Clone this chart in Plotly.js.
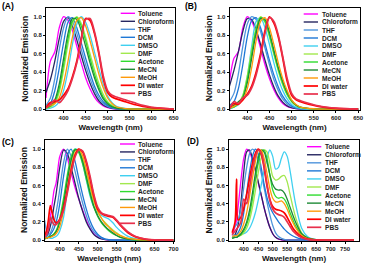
<!DOCTYPE html>
<html><head><meta charset="utf-8">
<script src="https://cdn.plot.ly/plotly-3.0.1.min.js"></script>
<style>html,body{margin:0;padding:0;background:#fff}#chart{width:366px;height:267px}</style>
</head><body><div id="chart"></div>
<script>
const SOLVENTS = ['Toluene','Chloroform','THF','DCM','DMSO','DMF','Acetone','MeCN','MeOH','DI water','PBS'];
const PANEL_LABELS = ['(A)','(B)','(C)','(D)'];
const X_TITLE = 'Wavelength (nm)';
const Y_TITLE = 'Normalized Emission';
const Y_TICKS = [0, 0.2, 0.4, 0.6, 0.8, 1.0];
const X_TICKS_AB = [400, 450, 500, 550, 600, 650];
const X_TICKS_C = [400, 450, 500, 550, 600, 650, 700];
const X_TICKS_D = [400, 450, 500, 550, 600, 650, 700, 750];

// wavelength grids (nm)
const WL_AB = [360,370,380,390,400,410,420,430,440,450,460,470,480,490,500,510,520,540,560,580,600,650];
const WL_C = [360,365,370,375,380,385,390,395,400,410,420,430,440,450,460,470,480,490,500,510,520,530,540,550,560,580,600,625,650,700];
const WL_D = [360,370,375,380,390,400,410,420,430,440,450,460,470,480,490,500,510,520,530,540,550,560,570,580,600,620,650,700,780];

// Panel A emission, one row per solvent (order of SOLVENTS)
const EM_A = [
 [0.12,0.52,0.62,0.88,1.0,0.96,0.85,0.68,0.5,0.34,0.22,0.13,0.07,0.035,0.015,0.005,0,0,0,0,0,0],
 [0.18,0.32,0.52,0.76,0.95,0.99,0.9,0.75,0.58,0.42,0.28,0.17,0.09,0.045,0.02,0.008,0.002,0,0,0,0,0],
 [0.04,0.12,0.33,0.64,0.88,1.0,0.95,0.82,0.65,0.48,0.33,0.21,0.12,0.06,0.03,0.012,0.004,0,0,0,0,0],
 [0.02,0.06,0.2,0.44,0.72,0.94,0.99,0.88,0.72,0.55,0.39,0.25,0.15,0.08,0.04,0.015,0.005,0,0,0,0,0],
 [0,0.01,0.03,0.08,0.2,0.42,0.7,0.92,1.0,0.94,0.8,0.62,0.44,0.27,0.14,0.07,0.03,0.008,0,0,0,0],
 [0.01,0.02,0.06,0.18,0.42,0.7,0.92,1.0,0.93,0.78,0.6,0.43,0.28,0.16,0.08,0.04,0.015,0.004,0,0,0,0],
 [0.01,0.03,0.08,0.22,0.48,0.76,0.95,0.99,0.9,0.74,0.55,0.38,0.24,0.13,0.065,0.03,0.01,0.002,0,0,0,0],
 [0.02,0.04,0.1,0.27,0.55,0.82,0.98,0.97,0.85,0.68,0.5,0.34,0.21,0.11,0.055,0.025,0.01,0.002,0,0,0,0],
 [0.02,0.04,0.06,0.12,0.28,0.52,0.78,0.96,0.99,0.9,0.74,0.56,0.38,0.23,0.12,0.06,0.025,0.006,0,0,0,0],
 [0.02,0.07,0.08,0.1,0.15,0.22,0.35,0.52,0.76,0.98,0.96,0.82,0.6,0.33,0.18,0.13,0.11,0.08,0.05,0.03,0.015,0],
 [0.01,0.05,0.1,0.07,0.12,0.2,0.33,0.5,0.74,0.97,0.98,0.84,0.62,0.36,0.2,0.15,0.13,0.1,0.07,0.04,0.02,0]
];
// Panel B
const EM_B = [
 [0.3,0.55,0.62,0.88,1.0,0.95,0.83,0.66,0.48,0.33,0.21,0.12,0.06,0.03,0.012,0.004,0,0,0,0,0,0],
 [0.25,0.42,0.62,0.84,0.98,0.97,0.86,0.7,0.53,0.37,0.24,0.14,0.075,0.035,0.015,0.005,0,0,0,0,0,0],
 [0.08,0.17,0.38,0.68,0.92,1.0,0.97,0.84,0.66,0.48,0.32,0.2,0.11,0.055,0.025,0.01,0.003,0,0,0,0,0],
 [0.04,0.08,0.22,0.48,0.78,0.96,0.99,0.88,0.71,0.53,0.37,0.24,0.14,0.075,0.035,0.015,0.005,0,0,0,0,0],
 [0,0.02,0.05,0.14,0.35,0.68,0.95,0.99,0.88,0.7,0.5,0.33,0.2,0.11,0.05,0.02,0.008,0,0,0,0,0],
 [0.01,0.03,0.07,0.15,0.36,0.64,0.88,1.0,0.94,0.78,0.59,0.41,0.26,0.15,0.08,0.04,0.015,0.004,0,0,0,0],
 [0.01,0.02,0.06,0.13,0.32,0.6,0.86,0.99,0.95,0.8,0.61,0.43,0.28,0.16,0.085,0.04,0.018,0.005,0,0,0,0],
 [0.02,0.04,0.08,0.12,0.28,0.55,0.82,0.98,0.97,0.83,0.64,0.45,0.3,0.18,0.095,0.045,0.02,0.005,0,0,0,0],
 [0.01,0.03,0.06,0.1,0.22,0.45,0.74,0.95,0.99,0.88,0.7,0.5,0.33,0.2,0.1,0.05,0.022,0.006,0,0,0,0],
 [0.01,0.06,0.05,0.1,0.16,0.25,0.4,0.6,0.85,1.0,0.93,0.78,0.55,0.3,0.15,0.1,0.08,0.05,0.03,0.015,0.007,0],
 [0,0.08,0.06,0.12,0.15,0.23,0.37,0.57,0.82,0.99,0.95,0.8,0.57,0.33,0.17,0.11,0.09,0.06,0.035,0.02,0.01,0]
];
// Panel C
const EM_C = [
 [0.02,0.05,0.12,0.25,0.4,0.55,0.62,0.78,0.92,1.0,0.9,0.74,0.58,0.45,0.33,0.22,0.13,0.07,0.035,0.015,0.005,0,0,0,0,0,0,0,0,0],
 [0.02,0.04,0.08,0.15,0.25,0.38,0.5,0.65,0.8,0.99,0.95,0.8,0.63,0.46,0.32,0.2,0.12,0.06,0.03,0.012,0.004,0,0,0,0,0,0,0,0,0],
 [0.22,0.1,0.06,0.08,0.13,0.2,0.3,0.42,0.56,0.85,1.0,0.92,0.76,0.58,0.41,0.27,0.16,0.09,0.05,0.025,0.01,0.004,0,0,0,0,0,0,0,0],
 [0.04,0.03,0.04,0.06,0.09,0.13,0.19,0.28,0.4,0.7,0.93,1.0,0.87,0.68,0.5,0.34,0.21,0.12,0.065,0.03,0.012,0.004,0,0,0,0,0,0,0,0],
 [0.1,0.05,0.03,0.02,0.02,0.03,0.04,0.06,0.1,0.25,0.55,0.85,1.0,0.98,0.85,0.66,0.48,0.36,0.3,0.27,0.25,0.23,0.19,0.14,0.1,0.04,0.015,0.004,0,0],
 [0.02,0.02,0.03,0.04,0.05,0.07,0.1,0.15,0.22,0.42,0.66,0.87,0.98,0.99,0.9,0.75,0.57,0.42,0.31,0.24,0.19,0.15,0.11,0.08,0.05,0.02,0.008,0.002,0,0],
 [0.01,0.02,0.03,0.04,0.05,0.07,0.1,0.15,0.24,0.46,0.72,0.92,1.0,0.96,0.84,0.67,0.5,0.36,0.26,0.19,0.14,0.1,0.07,0.05,0.03,0.012,0.004,0,0,0],
 [0.02,0.02,0.03,0.04,0.05,0.06,0.09,0.13,0.2,0.4,0.66,0.88,0.99,0.98,0.87,0.7,0.52,0.37,0.27,0.2,0.15,0.11,0.08,0.05,0.03,0.012,0.004,0,0,0],
 [0.03,0.02,0.03,0.03,0.04,0.05,0.07,0.1,0.15,0.32,0.56,0.8,0.95,1.0,0.93,0.78,0.6,0.44,0.32,0.24,0.18,0.14,0.1,0.07,0.05,0.02,0.008,0.002,0,0],
 [0.05,0.1,0.22,0.38,0.3,0.22,0.19,0.2,0.23,0.35,0.55,0.77,0.93,1.0,0.97,0.85,0.67,0.48,0.34,0.29,0.27,0.26,0.25,0.21,0.16,0.08,0.035,0.01,0.002,0],
 [0.03,0.06,0.12,0.25,0.2,0.17,0.17,0.19,0.22,0.33,0.52,0.74,0.91,0.99,0.98,0.87,0.7,0.5,0.36,0.3,0.28,0.27,0.26,0.22,0.17,0.09,0.04,0.012,0.003,0]
];
// Panel D
const EM_D = [
 [0.05,0.15,0.22,0.35,0.65,0.9,1.0,0.97,0.88,0.76,0.63,0.5,0.36,0.24,0.14,0.07,0.03,0.01,0.003,0,0,0,0,0,0,0,0,0,0],
 [0.02,0.06,0.1,0.16,0.4,0.75,0.97,0.99,0.9,0.78,0.64,0.5,0.36,0.24,0.14,0.07,0.03,0.012,0.004,0,0,0,0,0,0,0,0,0,0],
 [0.1,0.15,0.17,0.2,0.35,0.58,0.8,0.95,1.0,0.97,0.88,0.74,0.58,0.42,0.28,0.16,0.08,0.04,0.02,0.008,0.003,0,0,0,0,0,0,0,0],
 [0.03,0.05,0.06,0.08,0.15,0.3,0.52,0.75,0.92,1.0,0.95,0.8,0.62,0.47,0.37,0.3,0.25,0.2,0.16,0.12,0.09,0.065,0.045,0.03,0.012,0.004,0,0,0],
 [0.06,0.05,0.05,0.05,0.06,0.07,0.09,0.13,0.2,0.3,0.44,0.6,0.76,0.9,0.99,0.92,0.78,0.8,0.9,0.97,0.92,0.76,0.56,0.38,0.13,0.04,0.005,0,0],
 [0.03,0.03,0.03,0.04,0.05,0.08,0.13,0.22,0.36,0.54,0.74,0.9,0.99,0.97,0.85,0.7,0.66,0.67,0.7,0.71,0.64,0.5,0.36,0.24,0.08,0.025,0.004,0,0],
 [0.02,0.03,0.03,0.04,0.06,0.1,0.17,0.28,0.45,0.66,0.85,0.97,0.99,0.9,0.72,0.55,0.48,0.46,0.47,0.45,0.39,0.3,0.22,0.15,0.05,0.016,0.002,0,0],
 [0.02,0.03,0.03,0.04,0.07,0.12,0.2,0.33,0.52,0.73,0.9,0.99,0.97,0.86,0.72,0.61,0.56,0.55,0.55,0.52,0.45,0.36,0.27,0.19,0.07,0.025,0.004,0,0],
 [0.04,0.05,0.05,0.06,0.1,0.18,0.3,0.48,0.68,0.86,0.98,0.99,0.9,0.74,0.57,0.46,0.42,0.42,0.43,0.4,0.34,0.26,0.19,0.13,0.05,0.015,0.002,0,0],
 [0.08,0.2,0.67,0.22,0.25,0.35,0.5,0.68,0.84,0.95,1.0,0.95,0.8,0.6,0.45,0.37,0.34,0.33,0.32,0.3,0.25,0.19,0.13,0.09,0.035,0.01,0.002,0,0],
 [0.06,0.1,0.12,0.14,0.2,0.45,0.4,0.58,0.78,0.92,0.99,0.96,0.82,0.62,0.44,0.34,0.3,0.28,0.27,0.25,0.2,0.15,0.1,0.07,0.025,0.008,0.001,0,0]
];

// styles
const COLORS = ['#ff00ff','#262661','#4f95dc','#1f78d6','#3fd0f0','#a2e84e','#2fdc2f','#1f8a36','#ff9a0a','#ff0000','#e8304c'];
const W = 366, H = 267;
const px = v => v / W, py = v => 1 - v / H;

// geometry in pixels: plot box, legend placement, titles
const PANELS = [
  {wl: WL_AB, em: EM_A, range: [360, 653], ticks: X_TICKS_AB, box: [46, 175, 7.5, 110], leg: {l0: 120.7, l1: 135, t: 137.3, y0: 13.3, dy: 8.0}, lab: [1, 5.5], ytx: 25},
  {wl: WL_AB, em: EM_B, range: [360, 653], ticks: X_TICKS_AB, box: [229.5, 359.5, 7.5, 110], leg: {l0: 303.7, l1: 318, t: 320.5, y0: 14, dy: 8.0}, lab: [184, 5.5], ytx: 208.5},
  {wl: WL_C, em: EM_C, range: [361, 700], ticks: X_TICKS_C, box: [45, 173.5, 140, 241], leg: {l0: 120, l1: 135, t: 137.3, y0: 144, dy: 7.93}, lab: [1, 141.5], ytx: 23.5},
  {wl: WL_D, em: EM_D, range: [349, 798], ticks: X_TICKS_D, box: [229, 359, 140, 241], leg: {l0: 307, l1: 321.3, t: 324.3, y0: 146.7, dy: 8.06}, lab: [186, 141], ytx: 208}
];

const tickFont = {family: 'Liberation Sans', size: 6, color: '#222', weight: 'bold'};
const titleFont = {family: 'Liberation Sans', size: 8, color: '#111', weight: 'bold'};
const traces = [], annotations = [], shapes = [];
const layout = {
  width: W, height: H, margin: {l: 0, r: 0, t: 0, b: 0},
  paper_bgcolor: '#fff', plot_bgcolor: '#fff', showlegend: false
};

PANELS.forEach((p, k) => {
  const s = k === 0 ? '' : String(k + 1);
  const [x0, x1, y0, y1] = p.box;
  p.em.forEach((ys, i) => {
    traces.push({
      x: p.wl, y: ys, xaxis: 'x' + s, yaxis: 'y' + s, type: 'scatter', mode: 'lines',
      name: SOLVENTS[i], hoverinfo: 'skip',
      line: {color: COLORS[i], width: i >= 9 ? 1.7 : 1.3, shape: 'spline', smoothing: 0.8}
    });
  });
  layout['xaxis' + s] = {
    domain: [px(x0), px(x1)], anchor: 'y' + s, range: p.range,
    tickmode: 'array', tickvals: p.ticks, ticks: 'outside', ticklen: 2, tickwidth: 1, tickcolor: '#000',
    showline: true, mirror: true, linecolor: '#000', linewidth: 1, showgrid: false, zeroline: false,
    tickfont: tickFont, title: {text: X_TITLE, font: titleFont, standoff: 4}
  };
  layout['yaxis' + s] = {
    domain: [py(y1), py(y0)], anchor: 'x' + s, range: [-0.01, 1.1],
    tickmode: 'array', tickvals: Y_TICKS, tickformat: '.1f', ticks: 'outside', ticklen: 2, tickwidth: 1, tickcolor: '#000',
    showline: true, mirror: true, linecolor: '#000', linewidth: 1, showgrid: false, zeroline: false,
    tickfont: tickFont
  };
  // y-axis title placed as rotated text beside the axis
  annotations.push({xref: 'paper', yref: 'paper', x: px(p.ytx), y: py((y0 + y1) / 2), xanchor: 'center', yanchor: 'middle',
    text: Y_TITLE, textangle: -90, showarrow: false, borderpad: 0,
    font: {family: 'Liberation Sans', size: 8.5, color: '#111', weight: 'bold'}});
  // in-plot legend
  SOLVENTS.forEach((name, i) => {
    const yy = p.leg.y0 + p.leg.dy * i;
    shapes.push({type: 'line', xref: 'paper', yref: 'paper', x0: px(p.leg.l0), x1: px(p.leg.l1), y0: py(yy), y1: py(yy),
      line: {color: COLORS[i], width: i >= 9 ? 1.7 : 1.4}});
    annotations.push({xref: 'paper', yref: 'paper', x: px(p.leg.t), y: py(yy), xanchor: 'left', yanchor: 'middle',
      text: name, showarrow: false, borderpad: 0,
      font: {family: 'Liberation Sans', size: 6.6, color: '#222', weight: 'bold'}});
  });
  annotations.push({xref: 'paper', yref: 'paper', x: px(p.lab[0]), y: py(p.lab[1]), xanchor: 'left', yanchor: 'middle',
    text: PANEL_LABELS[k], showarrow: false, borderpad: 0,
    font: {family: 'Liberation Sans', size: 8.5, color: '#000', weight: 'bold'}});
});
layout.annotations = annotations;
layout.shapes = shapes;

Plotly.newPlot('chart', traces, layout, {staticPlot: true, displayModeBar: false});
</script></body></html>
